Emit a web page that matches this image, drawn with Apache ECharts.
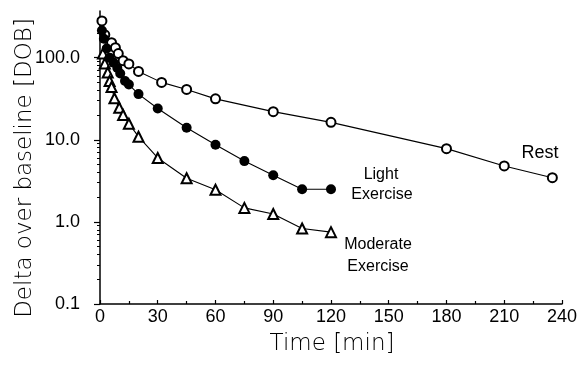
<!DOCTYPE html>
<html lang="en">
<head>
    <meta charset="UTF-8">
    <title>Delta over baseline</title>
    <script src="https://cdn.jsdelivr.net/npm/echarts@6/dist/echarts.min.js"></script>
    <style>
        html, body { margin: 0; padding: 0; background: #fff; }
    </style>
</head>
<body>
    <div id="chart" style="width: 580px; height: 375px;"></div>
    <script>
        // time [min] and DOB values
        const restTime = [1, 2.5, 6, 8, 9.5, 12, 15, 20, 32, 45, 60, 90, 120, 180, 210, 235]
        const restValue = [280, 190, 152, 132, 112, 92, 84, 68, 50, 41, 31.5, 22, 16.3, 7.8, 4.8, 3.45]

        const lightTime = [1, 2, 3.5, 5, 7, 9, 10.5, 13, 15, 20, 30, 45, 60, 75, 90, 105, 120]
        const lightValue = [214, 170, 129, 100, 87, 75, 64, 52, 47, 36, 24, 14, 8.7, 5.5, 3.7, 2.5, 2.5]

        const modTime = [1.5, 2.5, 4, 5, 6, 7.5, 10, 12, 15, 20, 30, 45, 60, 75, 90, 105, 120]
        const modValue = [112, 85, 66, 52, 44, 32, 24.5, 20, 15.7, 10.9, 6.0, 3.4, 2.46, 1.48, 1.25, 0.83, 0.75]

        const yTickValues = [0.1, 1, 10, 100]
        const yMinorTicks = []
        yTickValues.forEach(d => {
            for (let k = 2; k <= 9; k++) {
                if (d * k <= 370) yMinorTicks.push(+(d * k).toPrecision(3))
            }
        })

        const zip = (xs, ys) => xs.map((x, i) => [x, ys[i]])

        const chart = echarts.init(document.getElementById('chart'))

        const labelFont = 'Liberation Sans'

        const lineSeries = (name, time, value, symbol, size) => ({
            name: name,
            type: 'line',
            data: zip(time, value),
            symbol: symbol,
            symbolSize: size,
            showAllSymbol: true,
            lineStyle: { color: '#000', width: 1.1 },
            itemStyle: { color: '#000', borderWidth: 1.3 },
            emphasis: { disabled: true }
        })

        const option = {
            animation: false,
            backgroundColor: '#fff',
            grid: { left: 100, right: 17, top: 11, bottom: 71 },
            xAxis: {
                type: 'value',
                min: 0,
                max: 240,
                interval: 30,
                axisLine: { lineStyle: { color: '#000', width: 1.5 } },
                axisTick: { inside: true, length: 4, lineStyle: { color: '#000', width: 1.2 } },
                minorTick: { show: true, splitNumber: 2, length: 3, lineStyle: { color: '#000', width: 1.2 } },
                axisLabel: { color: '#000', fontSize: 18, fontFamily: labelFont, margin: 4 },
                splitLine: { show: false }
            },
            yAxis: [{
                type: 'log',
                logBase: 10,
                min: 0.1,
                max: 370,
                axisLine: { show: true, lineStyle: { color: '#000', width: 1.5 } },
                axisTick: { show: true, inside: false, length: 6, customValues: yTickValues, lineStyle: { color: '#000', width: 1.2 } },
                axisLabel: {
                    customValues: yTickValues,
                    formatter: v => Number(v).toFixed(1),
                    color: '#000', fontSize: 18, fontFamily: labelFont, margin: 20
                },
                splitLine: { show: false }
            }, {
                type: 'log',
                logBase: 10,
                min: 0.1,
                max: 370,
                position: 'left',
                offset: 0,
                axisLine: { show: false },
                axisTick: { show: true, inside: false, length: 3, customValues: yMinorTicks, lineStyle: { color: '#000', width: 1 } },
                axisLabel: { show: false },
                splitLine: { show: false }
            }],
            series: [
                lineSeries('Moderate Exercise', modTime, modValue, 'emptyTriangle', 10),
                lineSeries('Rest', restTime, restValue, 'emptyCircle', 9),
                lineSeries('Light Exercise', lightTime, lightValue, 'circle', 10)
            ],
            graphic: [
                { type: 'text', x: 25, y: 168, rotation: Math.PI / 2,
                  style: { text: 'Delta over baseline [DOB]', font: '300 23px "DejaVu Sans"', fill: '#000', align: 'center', verticalAlign: 'middle' } },
                { type: 'text', x: 332, y: 344,
                  style: { text: 'Time [min]', font: '300 23px "DejaVu Sans"', fill: '#000', align: 'center', verticalAlign: 'middle' } },
                { type: 'text', x: 540, y: 153,
                  style: { text: 'Rest', font: '18px "Liberation Sans"', fill: '#000', align: 'center', verticalAlign: 'middle' } },
                { type: 'text', x: 381, y: 175,
                  style: { text: 'Light', font: '16px "Liberation Sans"', fill: '#000', align: 'center', verticalAlign: 'middle' } },
                { type: 'text', x: 382, y: 195,
                  style: { text: 'Exercise', font: '16px "Liberation Sans"', fill: '#000', align: 'center', verticalAlign: 'middle' } },
                { type: 'text', x: 378, y: 245,
                  style: { text: 'Moderate', font: '16px "Liberation Sans"', fill: '#000', align: 'center', verticalAlign: 'middle' } },
                { type: 'text', x: 378, y: 267,
                  style: { text: 'Exercise', font: '16px "Liberation Sans"', fill: '#000', align: 'center', verticalAlign: 'middle' } }
            ]
        }

        chart.setOption(option)
    </script>
</body>
</html>
